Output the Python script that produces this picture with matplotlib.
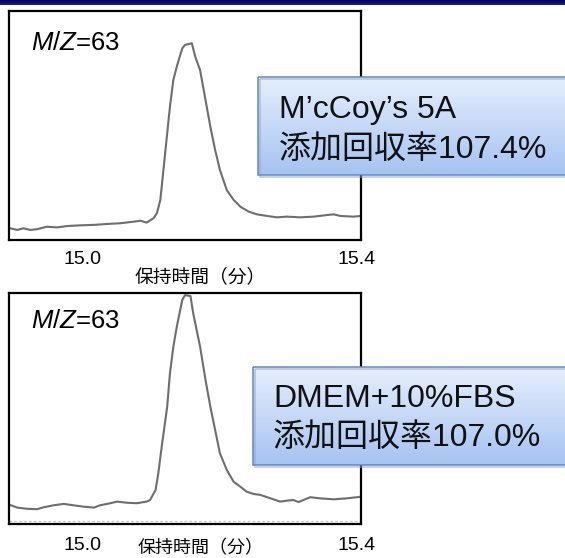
import numpy as np
import matplotlib
matplotlib.use("Agg")
import matplotlib.pyplot as plt
from matplotlib.patches import Rectangle

plt.rcParams['font.family'] = ['Liberation Sans', 'Noto Sans CJK JP', 'DejaVu Sans']
plt.rcParams['mathtext.fontset'] = 'custom'
plt.rcParams['mathtext.rm'] = 'Liberation Sans'
plt.rcParams['mathtext.it'] = 'Liberation Sans:italic'

# --- chromatogram data: retention time (min) vs. relative intensity ---
time_mccoy = [14.895, 14.905, 14.914, 14.924, 14.934, 14.948, 14.963, 14.978, 14.997,
              15.017, 15.036, 15.055, 15.075, 15.085, 15.094, 15.104, 15.109, 15.114,
              15.119, 15.124, 15.128, 15.133, 15.138, 15.146, 15.150, 15.160, 15.165,
              15.172, 15.180, 15.187, 15.194, 15.201, 15.211, 15.221, 15.231, 15.243,
              15.255, 15.270, 15.284, 15.299, 15.318, 15.338, 15.357, 15.367, 15.377,
              15.396, 15.407]
intensity_mccoy = [5.1, 4.4, 5.1, 4.4, 4.7, 5.8, 5.5, 6.1, 6.4, 6.6, 7.0, 7.3, 8.0, 8.4,
                   7.6, 9.5, 11.7, 17.5, 32.0, 46.6, 58.2, 69.9, 75.7, 83.7, 85.2, 85.9,
                   80.0, 74.2, 61.1, 49.5, 39.3, 30.6, 21.8, 17.5, 14.5, 12.4, 11.2, 10.5,
                   9.9, 10.2, 9.9, 10.2, 10.9, 11.2, 10.5, 10.2, 10.5]

time_dmem = [14.895, 14.905, 14.919, 14.934, 14.943, 14.958, 14.973, 14.987, 15.002,
             15.017, 15.026, 15.041, 15.051, 15.065, 15.080, 15.094, 15.099, 15.107,
             15.111, 15.116, 15.124, 15.128, 15.133, 15.138, 15.146, 15.150, 15.158,
             15.162, 15.167, 15.172, 15.180, 15.187, 15.194, 15.201, 15.211, 15.221,
             15.231, 15.240, 15.250, 15.260, 15.270, 15.279, 15.289, 15.299, 15.308,
             15.316, 15.323, 15.333, 15.347, 15.367, 15.386, 15.407]
intensity_dmem = [8.2, 7.1, 6.6, 6.4, 7.2, 8.1, 8.7, 8.1, 7.5, 7.1, 8.1, 9.0, 9.7, 9.2,
                  9.0, 9.7, 10.4, 14.7, 21.9, 33.5, 50.8, 65.2, 76.8, 85.4, 97.0, 99.1,
                  98.7, 91.2, 84.0, 76.8, 62.3, 50.8, 40.7, 30.6, 23.4, 18.3, 16.1, 14.0,
                  13.0, 12.6, 11.6, 10.7, 9.7, 10.1, 10.4, 9.5, 10.4, 11.6, 11.1, 10.7,
                  11.1, 11.8]

tick_values = [15.0, 15.4]
tick_labels = ['15.0', '15.4']
xlabel = '保持時間（分）'
mz_label = r'$\mathit{M/Z}$=63'
box_mccoy = ["M’cCoy’s 5A", "添加回収率107.4%"]
box_dmem = ["DMEM+10%FBS", "添加回収率107.0%"]

W, H = 565, 558
fig = plt.figure(figsize=(W / 100, H / 100), dpi=100)
fig.patch.set_facecolor('white')


def px_axes(left, top, right, bottom):
    return fig.add_axes([left / W, 1 - bottom / H, (right - left) / W, (bottom - top) / H])


def chromatogram(ax, t, y, pad):
    ax.plot(t, y, color='#6e6e6e', lw=1.5, solid_joinstyle='round')
    ax.set_xlim(14.893, 15.407)
    ax.set_ylim(0, 100)
    ax.set_yticks([])
    ax.set_xticks(tick_values)
    ax.set_xticklabels(tick_labels, fontsize=14)
    ax.tick_params(axis='x', length=0, pad=pad)
    for s in ax.spines.values():
        s.set_linewidth(1.6)
        s.set_color('black')
    ax.set_xlabel(xlabel, fontsize=13.5, labelpad=0)


ax1 = px_axes(9, 11, 361, 240)
chromatogram(ax1, time_mccoy, intensity_mccoy, 8)
ax1.xaxis.set_label_coords(0.543, -0.122)

ax2 = px_axes(9, 293, 361, 524)
chromatogram(ax2, time_dmem, intensity_dmem, 9.5)
ax2.axhline(1.4, color='#cfcfcf', lw=1.0, ls=(0, (2, 1.5)))
ax2.xaxis.set_label_coords(0.543, -0.068)
ax2.xaxis.label.set_fontsize(13)

# overlay in pixel coordinates for banner, labels and callout boxes
ov = fig.add_axes([0, 0, 1, 1], zorder=10)
ov.set_axis_off()
ov.patch.set_alpha(0)

# navy banner across the top
banner = np.linspace(0, 1, 20)[:, None, None]
top_c = np.array([0x00, 0x00, 0x5c]) / 255
bot_c = np.array([0x14, 0x24, 0x8c]) / 255
ov.imshow(top_c + (bot_c - top_c) * banner, extent=(0, W, 5, 0), aspect='auto',
          interpolation='bilinear')

for x, y in [(31, 50), (31, 328)]:
    ov.text(x, y, mz_label, fontsize=18.5, va='baseline', ha='left')


def callout(left, top, bottom, lines, baselines, text_x):
    g = np.linspace(0, 1, 50)[:, None, None]
    c0 = np.array([0xe6, 0xee, 0xfc]) / 255
    c1 = np.array([0xa6, 0xc3, 0xf2]) / 255
    ov.imshow(c0 + (c1 - c0) * g, extent=(left, W + 10, bottom, top), aspect='auto',
              interpolation='bilinear')
    ov.add_patch(Rectangle((left + 1.5, top + 1.5), W + 10 - left, bottom - top,
                           fill=False, ec='#9aa8c0', lw=1.2, alpha=0.6))
    ov.add_patch(Rectangle((left, top), W + 10 - left, bottom - top,
                           fill=False, ec='#5f87cc', lw=1.1))
    for s, b in zip(lines, baselines):
        ov.text(text_x, b, s, fontsize=23, va='baseline', ha='left', color='#111111')


callout(258, 77, 175, box_mccoy, [118, 158], 279)
callout(253, 367, 465, box_dmem, [407, 446], 273)

ov.set_xlim(0, W)
ov.set_ylim(H, 0)

fig.savefig('out.png', dpi=100)
